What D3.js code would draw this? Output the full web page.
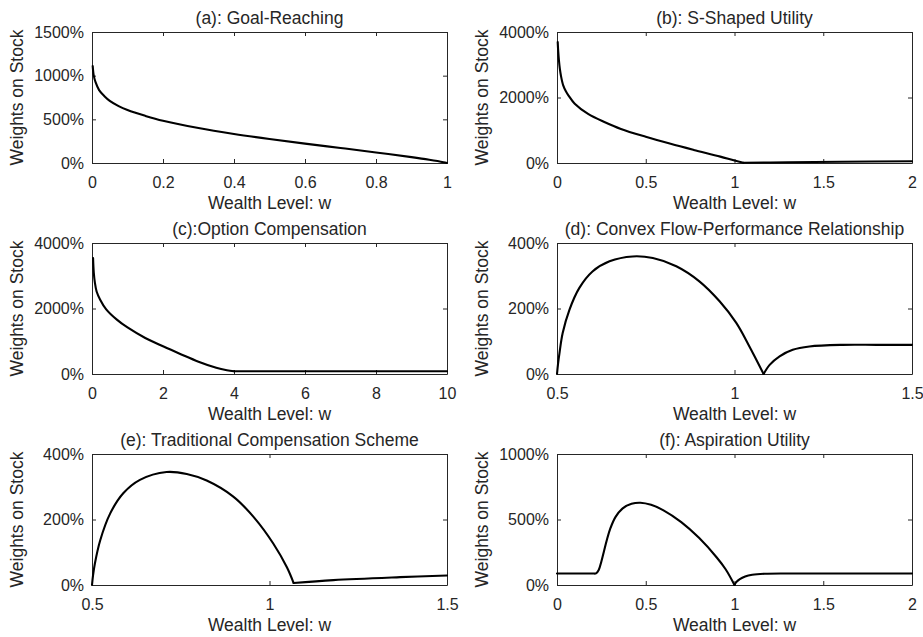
<!DOCTYPE html>
<html>
<head>
<meta charset="utf-8">
<script src="https://cdn.jsdelivr.net/npm/d3@7"></script>
<style>
  body { margin: 0; background: #fff; }
  svg text { font-family: "Liberation Sans", Arial, Helvetica, sans-serif; fill: #262626; }
</style>
</head>
<body>
<svg id="chart" width="923" height="637"></svg>
<script>
// ---- Optimal stock weights (in %) against wealth level w ----

// (a) Goal-Reaching
const goalW  = [0.002, 0.005, 0.01, 0.02, 0.035, 0.05, 0.075, 0.1, 0.15, 0.2, 0.3, 0.4, 0.5, 0.6, 0.7, 0.8, 0.9, 0.95, 0.99, 1.0];
const goalPi = [1110, 1000, 925, 835, 765, 712, 652, 607, 540, 483, 400, 333, 275, 222, 172, 121, 67, 37, 9, 0];

// (b) S-Shaped Utility
const sW  = [0.004, 0.007, 0.011, 0.016, 0.022, 0.035, 0.05, 0.065, 0.1, 0.175, 0.27, 0.36, 0.5, 0.64, 0.77, 0.92, 1.0, 1.05, 1.3, 1.6, 2.0];
const sPi = [3690, 3400, 3130, 2880, 2670, 2370, 2190, 2060, 1810, 1500, 1245, 1040, 800, 585, 400, 195, 75, 8, 22, 38, 55];

// (c) Option Compensation
const optW  = [0.03, 0.05, 0.08, 0.13, 0.23, 0.4, 0.7, 1.0, 1.5, 2.0, 2.5, 3.0, 3.5, 3.8, 4.0, 5, 6, 7, 8, 9, 10];
const optPi = [3540, 3100, 2800, 2520, 2270, 1975, 1660, 1420, 1100, 845, 605, 375, 190, 115, 82, 86, 86, 86, 86, 86, 86];

// (d) Convex Flow-Performance Relationship
const flowW  = [0.5, 0.503, 0.507, 0.516, 0.535, 0.563, 0.6, 0.648, 0.713, 0.77, 0.836, 0.901, 0.958, 1.005, 1.042, 1.082, 1.099, 1.127, 1.164, 1.211, 1.305, 1.4, 1.5];
const flowPi = [0, 32, 64, 125, 196, 263, 313, 344, 359, 354, 329, 283, 222, 156, 84, 0, 28, 54, 74, 84, 89, 89, 89];

// (e) Traditional Compensation Scheme
const tradW  = [0.5, 0.503, 0.508, 0.523, 0.551, 0.588, 0.635, 0.71, 0.767, 0.823, 0.898, 0.955, 1.011, 1.049, 1.068, 1.18, 1.368, 1.5];
const tradPi = [0, 30, 65, 136, 218, 280, 321, 345, 339, 319, 270, 208, 126, 54, 6, 15, 24, 29];

// (f) Aspiration Utility
const aspW  = [0, 0.1, 0.2, 0.22, 0.235, 0.25, 0.265, 0.28, 0.3, 0.33, 0.37, 0.42, 0.47, 0.53, 0.6, 0.7, 0.8, 0.9, 0.95, 1.0, 1.01, 1.03, 1.06, 1.1, 1.17, 1.3, 1.6, 2.0];
const aspPi = [88, 88, 88, 89, 115, 180, 260, 340, 430, 520, 585, 620, 628, 612, 570, 480, 360, 210, 120, 0, 22, 45, 65, 78, 86, 88, 88, 88];

// Panel titles
const titles = [
  "(a): Goal-Reaching",
  "(b): S-Shaped Utility",
  "(c):Option Compensation",
  "(d): Convex Flow-Performance Relationship",
  "(e): Traditional Compensation Scheme",
  "(f): Aspiration Utility"
];

// Tick values
const xTicksA = [0, 0.2, 0.4, 0.6, 0.8, 1];
const xTicksB = [0, 0.5, 1, 1.5, 2];
const xTicksC = [0, 2, 4, 6, 8, 10];
const xTicksD = [0.5, 1, 1.5];
const yTicksA = [0, 500, 1000, 1500];
const yTicksB = [0, 2000, 4000];
const yTicksD = [0, 200, 400];
const yTicksF = [0, 500, 1000];

const xLabel = "Wealth Level: w";
const yLabel = "Weights on Stock";

const panels = [
  { title: titles[0], w: goalW, pi: goalPi, xd: [0, 1],     yd: [0, 1500], xt: xTicksA, yt: yTicksA },
  { title: titles[1], w: sW,    pi: sPi,    xd: [0, 2],     yd: [0, 4000], xt: xTicksB, yt: yTicksB },
  { title: titles[2], w: optW,  pi: optPi,  xd: [0, 10],    yd: [0, 4000], xt: xTicksC, yt: yTicksB },
  { title: titles[3], w: flowW, pi: flowPi, xd: [0.5, 1.5], yd: [0, 400],  xt: xTicksD, yt: yTicksD },
  { title: titles[4], w: tradW, pi: tradPi, xd: [0.5, 1.5], yd: [0, 400],  xt: xTicksD, yt: yTicksD },
  { title: titles[5], w: aspW,  pi: aspPi,  xd: [0, 2],     yd: [0, 1000], xt: xTicksB, yt: yTicksF }
];

// ---- Layout: 3 rows x 2 columns of axes ----
const colLeft = [92, 557];
const rowTop = [32, 243, 454];
const PW = 355, PH = 131;
const axisColor = "#262626";

const svg = d3.select("#chart");

// Break a series into pieces at kinks (local minima), so each
// piece is smoothed on its own and the kink stays sharp.
function pieces(xs, ys) {
  const out = [];
  let cur = [];
  xs.forEach((x, i) => {
    cur.push([x, ys[i]]);
    if (i > 0 && i < xs.length - 1 && ys[i] < ys[i - 1] && ys[i] < ys[i + 1]) {
      out.push(cur);
      cur = [[x, ys[i]]];
    }
  });
  out.push(cur);
  return out;
}

panels.forEach((p, k) => {
  const left = colLeft[k % 2];
  const top = rowTop[Math.floor(k / 2)];
  const g = svg.append("g").attr("transform", `translate(${left},${top})`);

  const x = d3.scaleLinear().domain(p.xd).range([0, PW]);
  const y = d3.scaleLinear().domain(p.yd).range([PH, 0]);

  const styleAxis = sel => {
    sel.select(".domain").attr("stroke", axisColor);
    sel.selectAll(".tick line").attr("stroke", axisColor);
    sel.selectAll(".tick text").attr("fill", axisColor).style("font-size", "16px");
  };

  // bottom axis with labels
  g.append("g").attr("transform", `translate(0,${PH})`)
    .call(d3.axisBottom(x).tickValues(p.xt).tickSize(-4).tickSizeOuter(0).tickPadding(14)
      .tickFormat(d3.format("~g")))
    .call(styleAxis);
  // top axis (ticks only)
  g.append("g")
    .call(d3.axisTop(x).tickValues(p.xt).tickSize(-4).tickSizeOuter(0).tickFormat(""))
    .call(styleAxis);
  // left axis with labels
  g.append("g")
    .call(d3.axisLeft(y).tickValues(p.yt).tickSize(-4).tickSizeOuter(0).tickPadding(8)
      .tickFormat(d => d + "%"))
    .call(styleAxis);
  // right axis (ticks only)
  g.append("g").attr("transform", `translate(${PW},0)`)
    .call(d3.axisRight(y).tickValues(p.yt).tickSize(-4).tickSizeOuter(0).tickFormat(""))
    .call(styleAxis);

  // curve
  const line = d3.line().x(d => x(d[0])).y(d => y(d[1])).curve(d3.curveCatmullRom.alpha(0.5));
  pieces(p.w, p.pi).forEach(seg => {
    g.append("path")
      .attr("d", line(seg))
      .attr("fill", "none")
      .attr("stroke", "#000")
      .attr("stroke-width", 2.1)
      .attr("stroke-linejoin", "round")
      .attr("stroke-linecap", "round");
  });

  // title
  g.append("text")
    .attr("x", PW / 2).attr("y", -8)
    .attr("text-anchor", "middle")
    .style("font-size", "17.5px")
    .text(p.title);

  // x label
  g.append("text")
    .attr("x", PW / 2).attr("y", PH + 45.5)
    .attr("text-anchor", "middle")
    .style("font-size", "17.5px")
    .text(xLabel);

  // y label
  g.append("text")
    .attr("transform", "rotate(-90)")
    .attr("x", -PH / 2).attr("y", -69)
    .attr("text-anchor", "middle")
    .style("font-size", "17.5px")
    .text(yLabel);
});
</script>
</body>
</html>
